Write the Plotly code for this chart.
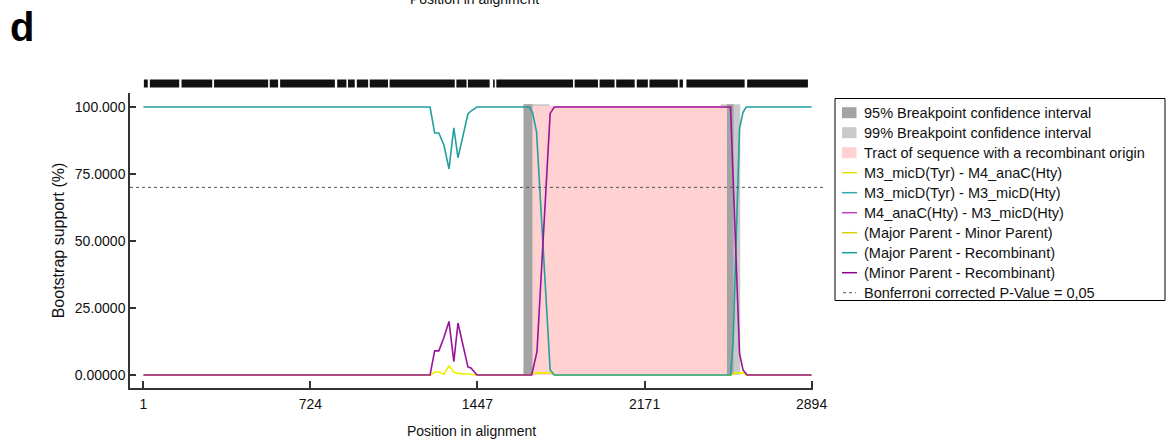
import plotly.graph_objects as go

# ---------------- data ----------------
teal_x = [1, 1242, 1262, 1280, 1302, 1324, 1345, 1363, 1406, 1419, 1445, 1672, 1686, 1703, 1762, 1780, 2543, 2554, 2582, 2597, 2611, 2894]
teal_y = [100, 100, 90.3, 90.3, 85.8, 76.9, 92.2, 81.0, 97.4, 98.5, 100, 100, 97.8, 90.8, 1.9, 0, 0, 12, 92, 98, 100, 100]

mag_x = [1, 1242, 1262, 1280, 1302, 1324, 1345, 1363, 1406, 1419, 1445, 1682, 1705, 1762, 1780, 2543, 2582, 2597, 2615, 2894]
mag_y = [0, 0, 9, 9, 14, 20, 5, 19.4, 3, 2.6, 0, 0, 8.7, 97.6, 100, 100, 8, 1.9, 0, 0]

yel_x = [1, 1242, 1262, 1280, 1302, 1324, 1345, 1363, 1406, 1445, 1680, 1690, 1770, 1780, 2550, 2560, 2600, 2610, 2894]
yel_y = [0, 0, 1.0, 1.2, 0.3, 3.4, 1.0, 0.6, 0.4, 0, 0, 0.8, 0.8, 0, 0, 0.8, 0.8, 0, 0]

# breakpoint intervals (alignment positions)
ci99 = [(1647, 1760), (2500, 2585)]
ci95 = [(1647, 1686), (2527, 2556)]
tract = (1686, 2527)
bonferroni = 70

# informative site runs (start, end) shown in the top strip
site_starts = [3, 29, 166, 307, 548, 593, 840, 887, 925, 981, 1067, 1356, 1406, 1515, 1529, 1868, 1976, 2048, 2137, 2192, 2322, 2352, 2615]
site_ends = [20, 156, 299, 541, 584, 830, 880, 916, 974, 1060, 1349, 1400, 1500, 1522, 1861, 1969, 2041, 2128, 2185, 2315, 2337, 2604, 2878]

xtick_vals = [1, 724, 1447, 2171, 2894]
ytick_vals = [0, 25, 50, 75, 100]
ytick_text = ["0.00000", "25.0000", "50.0000", "75.0000", "100.000"]

legend_labels = [
    "95% Breakpoint confidence interval",
    "99% Breakpoint confidence interval",
    "Tract of sequence with a recombinant origin",
    "M3_micD(Tyr) - M4_anaC(Hty)",
    "M3_micD(Tyr) - M3_micD(Hty)",
    "M4_anaC(Hty) - M3_micD(Hty)",
    "(Major Parent - Minor Parent)",
    "(Major Parent - Recombinant)",
    "(Minor Parent - Recombinant)",
    "Bonferroni corrected P-Value = 0,05",
]

# ---------------- styles ----------------
C_TEAL = "#229f9f"
C_MAG = "#99139b"
C_YEL = "#eeee00"
C_DARK = "#a3a3a3"
C_LIGHT = "#c9c9c9"
C_PINK = "#ffd1d1"
FONT = "Liberation Sans, Arial, sans-serif"

W, H = 1166, 439
ML, MR, MT, MB = 130, 1166 - 813, 60, 51
PW = W - ML - MR
PH = H - MT - MB


def px(x):
    return (x - ML) / PW


def py(y):
    return (H - MB - y) / PH


fig = go.Figure()


def band(x0, x1, y1, color):
    fig.add_trace(go.Scatter(
        x=[x0, x1, x1, x0, x0], y=[0, 0, y1, y1, 0], fill="toself",
        fillcolor=color, line=dict(width=0), mode="lines",
        hoverinfo="skip", showlegend=False))


for a, b in ci99:
    band(a, b, 101, C_LIGHT)
for a, b in ci95:
    band(a, b, 101, C_DARK)
band(tract[0], tract[1], 100.4, C_PINK)

fig.add_trace(go.Scatter(x=yel_x, y=yel_y, mode="lines", line=dict(color=C_YEL, width=1.6), showlegend=False))
fig.add_trace(go.Scatter(x=teal_x, y=teal_y, mode="lines", line=dict(color=C_TEAL, width=1.6), showlegend=False))
fig.add_trace(go.Scatter(x=mag_x, y=mag_y, mode="lines", line=dict(color=C_MAG, width=1.6), showlegend=False))

# informative sites strip
sx, sy = [], []
for a, b in zip(site_starts, site_ends):
    sx += [a, b, None]
    sy += [0.5, 0.5, None]
fig.add_trace(go.Scatter(x=sx, y=sy, mode="lines", line=dict(color="#111111", width=8),
                         yaxis="y2", showlegend=False, hoverinfo="skip"))

shapes = []
# Bonferroni line
shapes.append(dict(type="line", xref="paper", yref="y", x0=0, x1=px(824), y0=bonferroni, y1=bonferroni,
                   line=dict(color="#555555", width=1, dash="dot")))

# custom legend
lx0, lx1, ly0, ly1 = 835, 1165, 98.5, 300.5
shapes.append(dict(type="rect", xref="paper", yref="paper", x0=px(lx0), x1=px(lx1), y0=py(ly1), y1=py(ly0),
                   line=dict(color="#000000", width=1), fillcolor="rgba(0,0,0,0)"))
sym_styles = [
    ("rect", C_DARK), ("rect", C_LIGHT), ("rect", C_PINK),
    ("line", "#e2e200"), ("line", "#35a9a9"), ("line", "#c145c1"),
    ("line", "#d4d400"), ("line", "#1f9e9e"), ("line", "#8c008c"),
    ("dot", "#555555"),
]
annotations = []
for i, (lab, (kind, col)) in enumerate(zip(legend_labels, sym_styles)):
    yc = 112.7 + 20 * i
    if kind == "rect":
        shapes.append(dict(type="rect", xref="paper", yref="paper", x0=px(842), x1=px(856.5),
                           y0=py(yc + 5.5), y1=py(yc - 5.5), line=dict(width=0), fillcolor=col))
    elif kind == "line":
        shapes.append(dict(type="line", xref="paper", yref="paper", x0=px(842), x1=px(857),
                           y0=py(yc), y1=py(yc), line=dict(color=col, width=1.5)))
    else:
        shapes.append(dict(type="line", xref="paper", yref="paper", x0=px(843), x1=px(856),
                           y0=py(yc), y1=py(yc), line=dict(color=col, width=1, dash="dot")))
    annotations.append(dict(text=lab, xref="paper", yref="paper", x=px(862), y=py(yc),
                            xanchor="left", yanchor="middle", showarrow=False,
                            font=dict(family=FONT, size=14.5, color="#111111")))

# panel letter and cropped title from panel above
annotations.append(dict(text="<b>d</b>", xref="paper", yref="paper", x=px(8), y=py(27),
                        xanchor="left", yanchor="middle", showarrow=False,
                        font=dict(family=FONT, size=40, color="#000000")))
annotations.append(dict(text="Position in alignment", xref="paper", yref="paper", x=px(474), y=py(-1),
                        xanchor="center", yanchor="middle", showarrow=False,
                        font=dict(family=FONT, size=14, color="#111111")))

fig.update_layout(
    width=W, height=H,
    margin=dict(l=ML, r=MR, t=MT, b=MB, pad=0, autoexpand=False),
    paper_bgcolor="white", plot_bgcolor="white",
    font=dict(family=FONT, size=14, color="#111111"),
    shapes=shapes, annotations=annotations,
    showlegend=False,
    xaxis=dict(range=[-57, 2900], tickvals=xtick_vals, ticktext=[str(v) for v in xtick_vals],
               showline=True, linecolor="#333333", linewidth=1.5, ticks="inside", ticklen=7,
               tickcolor="#333333", tickwidth=1.5, showgrid=False, zeroline=False,
               automargin=False, ticklabelstandoff=2,
               title=dict(text="Position in alignment", standoff=16, font=dict(size=14)),
               tickfont=dict(size=14)),
    yaxis=dict(range=[-4.85, 105.22], domain=[0, py(93)], tickvals=ytick_vals, ticktext=ytick_text,
               showline=True, linecolor="#333333", linewidth=1.5, ticks="inside", ticklen=6,
               tickcolor="#333333", tickwidth=1.5, showgrid=False, zeroline=False,
               automargin=False,
               title=dict(text="Bootstrap support (%)", standoff=6, font=dict(size=16)),
               tickfont=dict(size=14)),
    yaxis2=dict(range=[0, 1], domain=[py(88), py(79)], visible=False, anchor="x"),
)

fig.write_html("out.html")
